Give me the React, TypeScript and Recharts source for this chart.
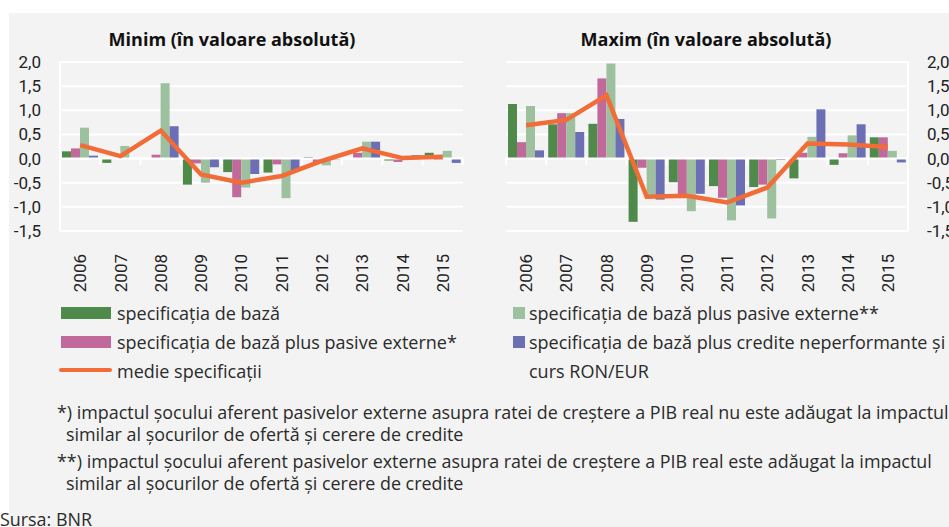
import React from 'react';
import { ComposedChart, Bar, Line, XAxis, YAxis, CartesianGrid, ReferenceLine } from 'recharts';

const years = ['2006', '2007', '2008', '2009', '2010', '2011', '2012', '2013', '2014', '2015'];
const yTicks = [-1.5, -1, -0.5, 0, 0.5, 1, 1.5, 2];

// Minim (in valoare absoluta)
const minBaza = [0.15, -0.09, 0.0, -0.54, -0.28, -0.29, 0.03, 0.0, -0.04, 0.12];
const minPasive1 = [0.21, 0.0, 0.08, -0.1, -0.8, -0.12, -0.07, 0.12, -0.07, -0.03];
const minPasive2 = [0.64, 0.26, 1.56, -0.5, -0.6, -0.82, -0.14, 0.35, 0.02, 0.16];
const minCredite = [0.06, 0.0, 0.67, -0.18, -0.32, -0.26, -0.02, 0.35, 0.07, -0.09];
const minMedie = [0.28, 0.05, 0.58, -0.33, -0.5, -0.36, -0.05, 0.21, 0.01, 0.04];

// Maxim (in valoare absoluta)
const maxBaza = [1.13, 0.71, 0.72, -1.31, -0.49, -0.57, -0.59, -0.41, -0.13, 0.44];
const maxPasive1 = [0.34, 0.94, 1.66, -0.19, -0.75, -0.81, -0.54, 0.12, 0.11, 0.44];
const maxPasive2 = [1.09, 0.94, 1.97, -0.8, -1.09, -1.28, -1.24, 0.45, 0.48, 0.16];
const maxCredite = [0.17, 0.55, 0.82, -0.85, -0.73, -0.97, -0.03, 1.02, 0.71, -0.08];
const maxMedie = [0.69, 0.8, 1.31, -0.79, -0.77, -0.91, -0.6, 0.31, 0.29, 0.24];

const C = {
  baza: '#4f8a4b',
  pasive1: '#c0699a',
  pasive2: '#9dc19e',
  credite: '#6c6fb4',
  medie: '#f26c38',
};

const bars = [
  { key: 'baza', name: 'specificația de bază', color: C.baza },
  { key: 'pasive1', name: 'specificația de bază plus pasive externe*', color: C.pasive1 },
  { key: 'pasive2', name: 'specificația de bază plus pasive externe**', color: C.pasive2 },
  { key: 'credite', name: 'specificația de bază plus credite neperformante și curs RON/EUR', color: C.credite },
];

const makeRows = (b: number[], p1: number[], p2: number[], cr: number[], m: number[]) =>
  years.map((year, i) => ({ year, baza: b[i], pasive1: p1[i], pasive2: p2[i], credite: cr[i], medie: m[i] }));

const minData = makeRows(minBaza, minPasive1, minPasive2, minCredite, minMedie);
const maxData = makeRows(maxBaza, maxPasive1, maxPasive2, maxCredite, maxMedie);

const tickFont = "'Liberation Sans Narrow', 'Roboto', sans-serif";
const textFont = "'Open Sans', 'Noto Sans', sans-serif";

const fmt = (v: number) => v.toFixed(1).replace('.', ',');

const YearTick = (props: any) => {
  const { x, y, payload } = props;
  return (
    <text
      transform={`translate(${x},${y + 15}) rotate(-90)`}
      textAnchor="end"
      dy="0.36em"
      fontFamily={tickFont}
      fontSize={17}
      fill="#222"
    >
      {payload.value}
    </text>
  );
};

const Panel = ({ data, side }: { data: any[]; side: 'left' | 'right' }) => {
  const isLeft = side === 'left';
  return (
    <ComposedChart
      width={isLeft ? 470 : 500}
      height={300}
      data={data}
      margin={isLeft ? { top: 62, right: 7, bottom: 19, left: 10 } : { top: 62, right: 12, bottom: 19, left: 36 }}
      barCategoryGap="5%"
      barGap={0}
    >
      <CartesianGrid vertical={false} stroke="#ffffff" strokeWidth={2} />
      <XAxis
        dataKey="year"
        height={50}
        axisLine={false}
        tickLine={false}
        interval={0}
        tick={<YearTick />}
      />
      <YAxis
        orientation={side}
        width={50}
        domain={[-1.5, 2]}
        ticks={yTicks}
        tickFormatter={fmt}
        axisLine={{ stroke: '#ffffff', strokeWidth: 2 }}
        tickLine={false}
        tickSize={0}
        tickMargin={19}
        tick={{ fontFamily: tickFont, fontSize: 17, fill: '#222' }}
        interval={0}
      />
      {bars.map((s) => (
        <Bar key={s.key} dataKey={s.key} name={s.name} fill={s.color} isAnimationActive={false} />
      ))}
      <ReferenceLine y={0} stroke="#ffffff" strokeWidth={2} />
      {years.map((yr) => (
        <ReferenceLine
          key={'t' + yr}
          segment={[{ x: yr, y: 0 }, { x: yr, y: -0.13 }]}
          position="start"
          stroke="#ffffff"
          strokeWidth={2}
        />
      ))}
      <ReferenceLine
        segment={[{ x: '2015', y: 0 }, { x: '2015', y: -0.13 }]}
        position="end"
        stroke="#ffffff"
        strokeWidth={2}
      />
      <Line
        type="linear"
        dataKey="medie"
        name="medie specificații"
        stroke={C.medie}
        strokeWidth={4.5}
        dot={false}
        activeDot={false}
        isAnimationActive={false}
      />
    </ComposedChart>
  );
};

const abs = (s: React.CSSProperties): React.CSSProperties => ({ position: 'absolute', ...s });

const legendText: React.CSSProperties = {
  fontFamily: textFont,
  fontSize: 18,
  color: '#2b2b2b',
  whiteSpace: 'nowrap',
  lineHeight: '22px',
};

const noteText: React.CSSProperties = { ...legendText, fontSize: 17.9 };

const titleStyle: React.CSSProperties = {
  width: 300,
  textAlign: 'center',
  fontFamily: textFont,
  fontWeight: 700,
  fontSize: 18,
  color: '#111',
  whiteSpace: 'nowrap',
};

const Swatch = ({ color, left, top, w }: { color: string; left: number; top: number; w: number }) => (
  <div style={abs({ left, top, width: w, height: 12, background: color })} />
);

export default function App() {
  return (
    <div style={abs({ left: 0, top: 0, width: 949, height: 527, overflow: 'hidden', background: '#ffffff' })}>
      <div style={abs({ left: 9, top: 13, right: 0, bottom: 0, background: '#f2f3f2' })} />

      <div style={abs({ left: 0, top: 0 })}>
        <Panel data={minData} side="left" />
      </div>
      <div style={abs({ left: 470, top: 0 })}>
        <Panel data={maxData} side="right" />
      </div>

      <div style={abs({ ...titleStyle, left: 82, top: 27 })}>Minim (în valoare absolută)</div>
      <div style={abs({ ...titleStyle, left: 556, top: 27 })}>Maxim (în valoare absolută)</div>

      {/* legend */}
      <Swatch color={bars[0].color} left={61} top={307} w={50} />
      <div style={abs({ ...legendText, left: 117, top: 302 })}>{bars[0].name}</div>
      <Swatch color={bars[1].color} left={61} top={336} w={50} />
      <div style={abs({ ...legendText, left: 117, top: 331 })}>{bars[1].name}</div>
      <div style={abs({ left: 59, top: 368, width: 53, height: 4, borderRadius: 2, background: C.medie })} />
      <div style={abs({ ...legendText, left: 117, top: 360 })}>medie specificații</div>

      <Swatch color={bars[2].color} left={513} top={307} w={12} />
      <div style={abs({ ...legendText, left: 529, top: 302 })}>{bars[2].name}</div>
      <Swatch color={bars[3].color} left={513} top={336} w={12} />
      <div style={abs({ ...legendText, left: 529, top: 331 })}>specificația de bază plus credite neperformante și</div>
      <div style={abs({ ...legendText, left: 529, top: 360 })}>curs RON/EUR</div>

      {/* notes */}
      <div style={abs({ ...noteText, left: 57, top: 401 })}>
        *) impactul șocului aferent pasivelor externe asupra ratei de creștere a PIB real nu este adăugat la impactul
      </div>
      <div style={abs({ ...noteText, left: 66, top: 423 })}>similar al șocurilor de ofertă și cerere de credite</div>
      <div style={abs({ ...noteText, left: 57, top: 450 })}>
        **) impactul șocului aferent pasivelor externe asupra ratei de creștere a PIB real este adăugat la impactul
      </div>
      <div style={abs({ ...noteText, left: 66, top: 472 })}>similar al șocurilor de ofertă și cerere de credite</div>
      <div style={abs({ ...noteText, left: 0, top: 508 })}>Sursa: BNR</div>
    </div>
  );
}
